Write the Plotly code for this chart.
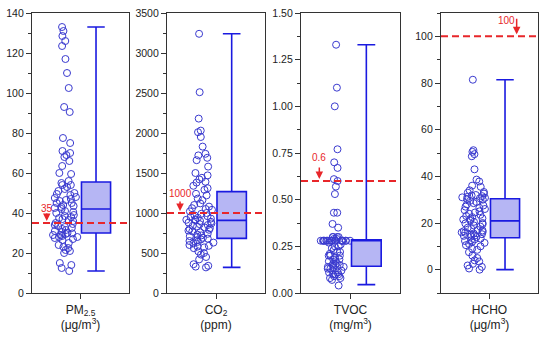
import plotly.graph_objects as go

# ---------------- data ----------------
categories = ["PM<sub>2.5</sub><br>(μg/m<sup>3</sup>)", "CO<sub>2</sub><br>(ppm)",
              "TVOC<br>(mg/m<sup>3</sup>)", "HCHO<br>(μg/m<sup>3</sup>)"]

pm25 = [133, 131, 128.5, 126, 123.5, 117, 110, 102.5, 93, 90.5, 77.5, 75, 71, 70, 69, 68, 66, 63.5, 60, 59.5, 56,
        55, 54, 54, 53, 52, 51, 50, 49.5, 49, 48, 47.5, 47, 46.5, 46, 45, 45, 44, 43.5, 43, 42.5, 42,
        41, 40.5, 40, 39, 38.5, 38, 37.5, 37, 36.5, 36, 35, 34.5, 34, 33.5, 33, 32.5, 32, 31.5, 31, 30.5, 30,
        29.8, 29.5, 29, 29, 28.5, 28, 28, 27.5, 27, 26.5, 25, 24, 23, 22.5, 21.5, 21, 20, 15, 14, 12.5, 11]

co2 = [3240, 2510, 2180, 2030, 2010, 1950, 1830, 1740, 1720, 1690, 1660, 1580, 1500, 1470, 1440, 1420, 1390, 1380,
       1340, 1310, 1290,
       1240, 1220, 1180, 1160, 1120, 1100, 1080, 1060, 1050, 1040, 1020, 1000, 990, 970, 960, 950, 940, 930, 920,
       915, 910,
       900, 890, 880, 870, 860, 850, 840, 830, 820, 810, 800, 790, 780, 770, 760, 740, 730, 720, 710, 700, 690,
       680, 670, 660, 650, 640, 630, 620, 600, 590, 580, 570, 560, 520, 500, 480, 450, 420, 360, 340, 330, 320]

tvoc = [1.33, 1.10, 1.00, 0.77, 0.70, 0.67, 0.61, 0.60, 0.57, 0.53, 0.43, 0.43, 0.37, 0.35, 0.30, 0.30, 0.30, 0.30,
        0.29, 0.29,
        0.28, 0.28, 0.28, 0.28, 0.28, 0.28, 0.28, 0.28, 0.28, 0.28, 0.28, 0.28, 0.28, 0.28, 0.28, 0.28, 0.28, 0.28,
        0.27, 0.26, 0.25, 0.25, 0.24, 0.23, 0.22, 0.22, 0.21, 0.20, 0.20, 0.20, 0.19, 0.18, 0.18, 0.17, 0.17, 0.16,
        0.16, 0.15, 0.15, 0.15, 0.14, 0.14, 0.14, 0.13, 0.13, 0.12, 0.12, 0.11, 0.11, 0.10, 0.10, 0.10, 0.09, 0.09,
        0.08, 0.08, 0.07, 0.04]

hcho = [81.4, 51.2, 50.5, 49.5, 48.6, 43, 38.6, 37.8, 36, 35.5, 34, 33.3, 33, 32.6, 32, 31.8, 31.5, 31.2, 31, 30.8,
        30.6,
        30.2, 30, 29.5, 29, 28.5, 28, 27.5, 27, 26.5, 26, 25.5, 25, 24.5, 24, 23.5, 23, 22.5, 22, 21.8, 21.5, 21,
        20.5, 20, 19.8, 19.5, 19, 18.5, 18, 17.5, 17, 16.8, 16.5, 16.2, 16, 15.8, 15.5, 15.2, 15, 14.7, 14.5, 14.2, 14,
        13.3, 13, 12.6, 12.3, 12, 11.5, 11, 10.5, 10, 9, 8.5, 7.5, 6, 5, 4, 3.5, 2.5, 1.8, 1.2, 0.5, 0]

series = [pm25, co2, tvoc, hcho]

# box statistics
q1 = [30, 683, 0.143, 13.7]
median = [42, 908, 0.28, 20.9]
q3 = [55.5, 1267, 0.285, 30.4]
lowerfence = [11, 320, 0.045, 0]
upperfence = [133, 3240, 1.33, 81.4]

# guideline limits
limits = [35, 1000, 0.6, 100]
limit_labels = ["35", "1000", "0.6", "100"]

y_ranges = [[0, 140], [0, 3500], [0, 1.5], [-10, 110]]
y_dticks = [20, 500, 0.25, 20]
y_formats = ["", "", ".2f", ""]

# ---------------- styling ----------------
FONT = "Arial, Liberation Sans, sans-serif"
BLUE = "#1a1ae0"
PT = "#3a3acf"
FILL = "#b6b6f4"
RED = "#e8262a"
AX = "#333333"

x_domains = [[32, 129], [167, 265], [301, 400], [441, 538]]
W, H = 550, 341
y_dom = [48 / H, 328 / H]

# annotation placement: arrow x frac, arrow length(px), text x frac, text yshift(px)
arrow_x = [0.152, 0.133, 0.185, 0.78]
arrow_len = [11, 13, 15, 19]
text_x = [0.152, 0.133, 0.185, 0.68]
text_shift = [15, 20, 24, 16]

fig = go.Figure()
layout = dict(width=W, height=H, margin=dict(l=0, r=0, t=0, b=0, autoexpand=False),
              paper_bgcolor="white", plot_bgcolor="white", showlegend=False,
              font=dict(family=FONT, size=11, color="#222"), boxmode="overlay")
shapes, annotations = [], []

for i in range(4):
    sfx = "" if i == 0 else str(i + 1)
    xa, ya = "x" + sfx, "y" + sfx
    # jittered points
    fig.add_trace(go.Box(
        y=series[i], x0=0.35, width=0.31, xaxis=xa, yaxis=ya,
        boxpoints="all", jitter=1, pointpos=0,
        fillcolor="rgba(0,0,0,0)", line=dict(color="rgba(0,0,0,0)", width=0),
        marker=dict(symbol="circle-open", size=7, color=PT, line=dict(width=1, color=PT)),
        hoverinfo="y", name="points"))
    # box with given statistics
    fig.add_trace(go.Box(
        x=[0.66], q1=[q1[i]], median=[median[i]], q3=[q3[i]],
        lowerfence=[lowerfence[i]], upperfence=[upperfence[i]],
        width=0.3, whiskerwidth=0.6, xaxis=xa, yaxis=ya,
        fillcolor=FILL, line=dict(color=BLUE, width=1.6),
        boxpoints=False, name="box"))

    d = x_domains[i]
    layout["xaxis" + sfx] = dict(
        domain=[d[0] / W, d[1] / W], range=[0, 1], anchor=ya, automargin=False,
        tickvals=[0.5], ticktext=[categories[i]], ticks="outside", ticklen=5,
        tickcolor=AX, showline=True, linecolor=AX, linewidth=1.3, mirror=True,
        showgrid=False, zeroline=False, tickfont=dict(size=12, color="#222"), fixedrange=True)
    layout["yaxis" + sfx] = dict(
        domain=y_dom, range=y_ranges[i], anchor=xa, dtick=y_dticks[i], tick0=0, automargin=False,
        tickformat=y_formats[i], ticks="outside", ticklen=5, tickcolor=AX,
        minor=dict(ticks="outside", ticklen=3, dtick=y_dticks[i] / 2, tickcolor=AX),
        showline=True, linecolor=AX, linewidth=1.3, mirror=True,
        showgrid=False, zeroline=False, tickfont=dict(size=10.5, color="#222"))

    # dashed limit line
    shapes.append(dict(type="line", xref=xa + " domain", yref=ya, x0=0, x1=1,
                       y0=limits[i], y1=limits[i],
                       line=dict(color=RED, width=2, dash="7px,4px")))
    # arrow
    annotations.append(dict(xref=xa + " domain", yref=ya, x=arrow_x[i], y=limits[i],
                            text="", showarrow=True, ax=0, ay=-arrow_len[i],
                            arrowhead=2, arrowsize=1, arrowwidth=1.5, arrowcolor=RED,
                            standoff=2))
    # label
    annotations.append(dict(xref=xa + " domain", yref=ya, x=text_x[i], y=limits[i],
                            xanchor="center", yanchor="middle",
                            yshift=text_shift[i], text=limit_labels[i], showarrow=False,
                            font=dict(color=RED, size=10, family=FONT)))

layout["shapes"] = shapes
layout["annotations"] = annotations
fig.update_layout(**layout)
fig.write_html("out.html", config={"displayModeBar": False},
               post_script="document.body.style.margin='0';")
